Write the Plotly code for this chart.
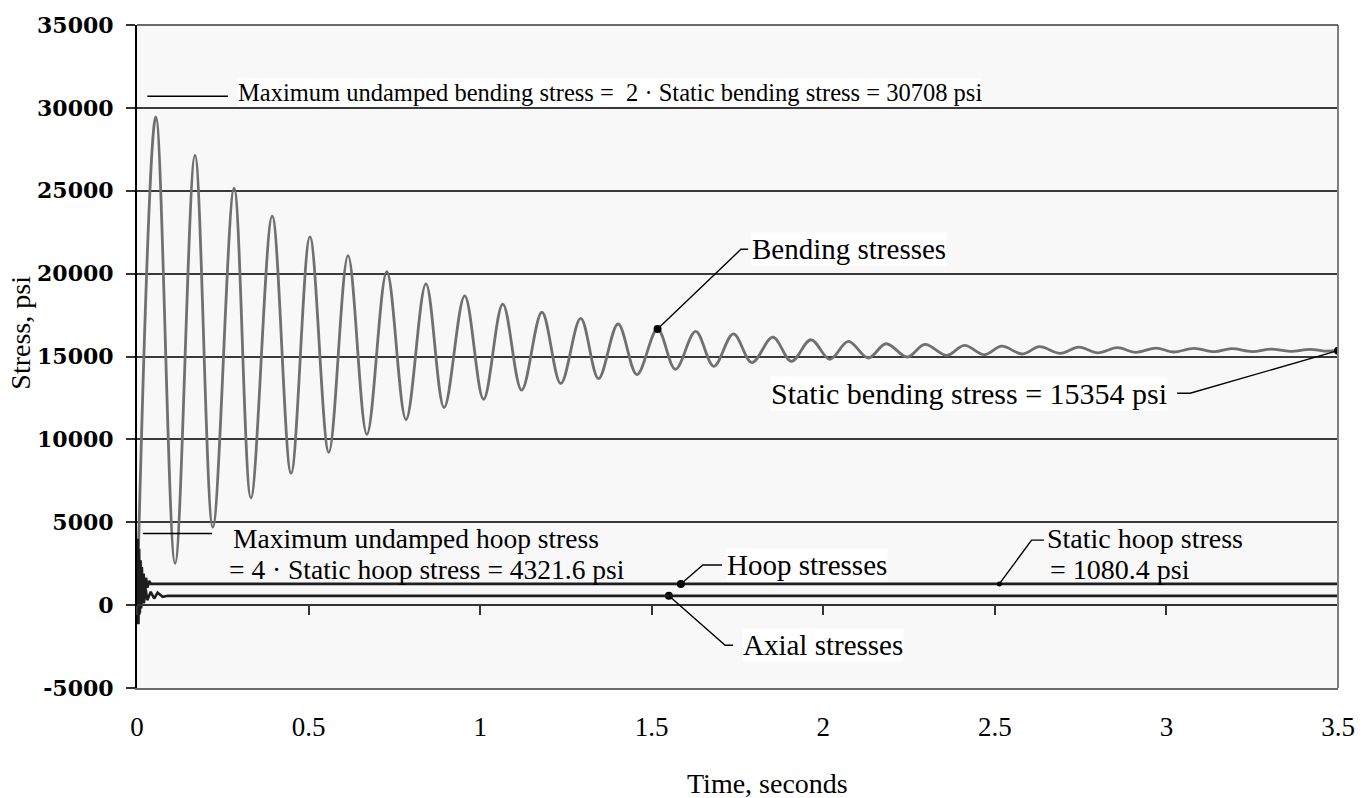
import plotly.graph_objects as go

# ---------------- data ----------------
bend_t = [0, 0.055, 0.111, 0.169, 0.221, 0.283, 0.332, 0.394, 0.449, 0.504,
          0.559, 0.615, 0.670, 0.728, 0.784, 0.842, 0.895, 0.955, 1.010, 1.066,
          1.121, 1.180, 1.235, 1.293, 1.345, 1.402, 1.457, 1.517, 1.569, 1.628,
          1.681, 1.738, 1.792, 1.853, 1.907, 1.964, 2.019, 2.073, 2.131, 2.183,
          2.245, 2.296, 2.360, 2.411, 2.47, 2.52, 2.58, 2.63, 2.69, 2.745,
          2.80, 2.857, 2.91, 2.97, 3.02, 3.08, 3.14, 3.19, 3.25, 3.305,
          3.36, 3.42, 3.46, 3.5]
bend_v = [0, 29460, 2520, 27130, 4700, 25150, 6470, 23470, 7960, 22220,
          9220, 21080, 10300, 20120, 11200, 19380, 11920, 18660, 12420, 18160,
          12970, 17670, 13370, 17300, 13670, 16960, 13910, 16660, 14230, 16510,
          14410, 16370, 14630, 16170, 14710, 16010, 14830, 15910, 14910, 15770,
          14970, 15730, 15070, 15670, 15110, 15620, 15150, 15590, 15190, 15560,
          15220, 15530, 15250, 15510, 15270, 15490, 15290, 15470, 15300, 15450,
          15315, 15430, 15330, 15354]

hoop_t = [0, 0.002, 0.004, 0.006, 0.008, 0.010, 0.012, 0.014, 0.016, 0.019,
          0.022, 0.026, 0.030, 0.035, 0.040, 3.5]
hoop_v = [0, 4000, -1150, 3400, -500, 2700, 100, 2300, 500, 1900,
          800, 1650, 1050, 1450, 1280, 1280]

axial_t = [0, 0.003, 0.006, 0.009, 0.012, 0.016, 0.020, 0.025, 0.030, 0.040,
           0.050, 0.060, 0.075, 0.090, 3.5]
axial_v = [0, 1900, -600, 1500, -200, 1200, 100, 1000, 300, 800,
           400, 750, 500, 560, 560]

x_ticks = [0, 0.5, 1, 1.5, 2, 2.5, 3, 3.5]
x_ticktext = ["0", "0.5", "1", "1.5", "2", "2.5", "3", "3.5"]
y_ticks = [-5000, 0, 5000, 10000, 15000, 20000, 25000, 30000, 35000]
y_ticktext = ["-5000", "0", "5000", "10000", "15000", "20000", "25000", "30000", "35000"]

max_bending = 30708
max_hoop = 4321.6

# indices of marked points
i_bend_dot = 27

SERIF = "Liberation Serif, Times New Roman, serif"

fig = go.Figure()

fig.add_trace(go.Scatter(x=bend_t, y=bend_v, mode="lines",
                         line=dict(color="#707070", width=2.8, shape="spline", smoothing=1.0),
                         hoverinfo="skip", showlegend=False))
fig.add_trace(go.Scatter(x=axial_t, y=axial_v, mode="lines",
                         line=dict(color="#1e1e1e", width=2.6),
                         hoverinfo="skip", showlegend=False, xaxis="x2"))
fig.add_trace(go.Scatter(x=hoop_t, y=hoop_v, mode="lines",
                         line=dict(color="#1e1e1e", width=2.8),
                         hoverinfo="skip", showlegend=False))

# marked points on the curves
hoop_level = hoop_v[-1]
axial_level = axial_v[-1]
dot_x = [bend_t[i_bend_dot], bend_t[-1], 1.585, 1.550]
dot_y = [bend_v[i_bend_dot], bend_v[-1], hoop_level, axial_level]
fig.add_trace(go.Scatter(x=dot_x, y=dot_y, mode="markers",
                         marker=dict(color="black", size=8),
                         hoverinfo="skip", showlegend=False))
fig.add_trace(go.Scatter(x=[2.513], y=[hoop_level], mode="markers",
                         marker=dict(color="black", size=5),
                         hoverinfo="skip", showlegend=False))

# ---------------- annotations ----------------
def label(x, y, text, size=29, bg="white"):
    fig.add_annotation(x=x, y=y, xref="x", yref="y", text=text, showarrow=False,
                       xanchor="left", yanchor="middle", align="left",
                       font=dict(family=SERIF, size=size, color="black"),
                       bgcolor=bg, borderpad=0)

def leader(pts, width=1.4):
    path = "M " + " L ".join(f"{px},{py}" for px, py in pts)
    fig.add_shape(type="path", path=path, xref="x", yref="y",
                  line=dict(color="black", width=width))

# maximum undamped bending stress
fig.add_shape(type="line", xref="x", yref="y", x0=0.03, x1=0.265,
              y0=max_bending, y1=max_bending, line=dict(color="black", width=1.5))
label(0.291, 30950,
      "Maximum undamped bending stress =\u00a0 2\u00a0\u00b7\u00a0Static bending stress = 30708 psi",
      size=24.5)

# maximum undamped hoop stress
fig.add_shape(type="line", xref="x", yref="y", x0=0.017, x1=0.219,
              y0=max_hoop, y1=max_hoop, line=dict(color="black", width=1.5))
label(0.277, 4040, "Maximum undamped hoop stress", size=27.5, bg=None)
label(0.265, 2130, "= 4\u00a0\u00b7\u00a0Static hoop stress = 4321.6 psi", size=27.5, bg=None)

# bending stresses
leader([(bend_t[i_bend_dot], bend_v[i_bend_dot]), (1.760, 21467), (1.781, 21467)])
label(1.789, 21467, "Bending stresses")

# static bending stress
label(1.845, 12785, "Static bending stress = 15354 psi", size=30)
leader([(3.031, 12785), (3.069, 12785), (bend_t[-1], bend_v[-1])])

# hoop stresses
leader([(1.585, hoop_level), (1.649, 2425), (1.705, 2425)])
label(1.716, 2425, "Hoop stresses")

# axial stresses
leader([(1.550, axial_level), (1.714, -2425), (1.737, -2425)])
label(1.763, -2425, "Axial stresses")

# static hoop stress
leader([(2.513, hoop_level), (2.607, 3920), (2.643, 3920)])
label(2.649, 4040, "Static hoop stress", size=28, bg=None)
label(2.658, 2130, "= 1080.4 psi", size=28, bg=None)

# axis titles
fig.add_annotation(text="Stress, psi", xref="paper", yref="paper", x=0, y=0.536,
                   xanchor="center", yanchor="middle",
                   xshift=-116, textangle=-90, showarrow=False,
                   font=dict(family=SERIF, size=28, color="black"))
fig.add_annotation(text="Time, seconds", xref="paper", yref="paper", x=0.525, y=0,
                   xanchor="center", yanchor="middle",
                   yshift=-95, showarrow=False,
                   font=dict(family=SERIF, size=28, color="black"))

# right border and top line
fig.add_shape(type="line", xref="paper", yref="paper", x0=1, x1=1, y0=0, y1=1,
              line=dict(color="#808080", width=2))
fig.add_shape(type="line", xref="paper", yref="paper", x0=0, x1=1, y0=1, y1=1,
              line=dict(color="#3a3a3a", width=1.5))

fig.update_layout(
    width=1368, height=798,
    margin=dict(l=137, r=30, t=20, b=110),
    paper_bgcolor="white",
    plot_bgcolor="#f8f8f8",
    showlegend=False,
    xaxis=dict(range=[0, 3.5], tickvals=x_ticks, ticktext=x_ticktext,
               ticks="", showline=True, linecolor="#6a6a6a", linewidth=2,
               showgrid=False, zeroline=False, ticklabelstandoff=14,
               tickfont=dict(family=SERIF, size=27, color="black")),
    xaxis2=dict(range=[0, 3.5], overlaying="x", anchor="free", position=0.125,
                tickvals=x_ticks, ticks="outside", ticklen=9, tickwidth=1.5,
                tickcolor="#333", showticklabels=False, showline=True,
                linecolor="#333", linewidth=1.5, showgrid=False, zeroline=False),
    yaxis=dict(range=[-5000, 35000], tickvals=y_ticks, ticktext=y_ticktext,
               ticks="outside", ticklen=9,
               tickwidth=1.5, tickcolor="#333", showline=True, linecolor="black",
               linewidth=2, showgrid=True, gridcolor="#3a3a3a", gridwidth=1.5,
               zeroline=False, ticklabelstandoff=8,
               tickfont=dict(family="DejaVu Serif", size=22, color="black", weight="bold")),
)

fig.write_html("out.html")
